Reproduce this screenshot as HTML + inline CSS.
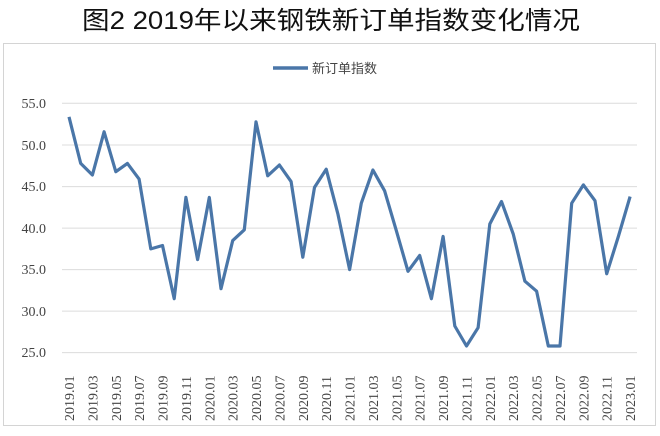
<!DOCTYPE html><html><head><meta charset="utf-8"><style>body{margin:0;background:#fff}</style></head><body>
<svg width="660" height="431" xmlns="http://www.w3.org/2000/svg">
<rect width="660" height="431" fill="#fff"/>
<text x="82" y="29" textLength="498" lengthAdjust="spacingAndGlyphs" font-family="Liberation Sans, Noto Sans CJK SC, sans-serif" font-size="25" fill="#111">图2  2019年以来钢铁新订单指数变化情况</text>
<rect x="3.5" y="43.5" width="652" height="382" fill="none" stroke="#d4d4d4"/>
<g stroke="#dcdcdc" stroke-width="1">
<line x1="62" x2="637" y1="103.3" y2="103.3"/><line x1="62" x2="637" y1="145" y2="145"/><line x1="62" x2="637" y1="186.6" y2="186.6"/><line x1="62" x2="637" y1="228.1" y2="228.1"/><line x1="62" x2="637" y1="269.6" y2="269.6"/><line x1="62" x2="637" y1="311.1" y2="311.1"/><line x1="62" x2="637" y1="352.6" y2="352.6"/>
</g>
<g font-family="Liberation Serif, serif" font-size="14" fill="#444" text-anchor="end">
<text x="46" y="108">55.0</text><text x="46" y="150">50.0</text><text x="46" y="191">45.0</text><text x="46" y="233">40.0</text><text x="46" y="274">35.0</text><text x="46" y="316">30.0</text><text x="46" y="357">25.0</text>
</g>
<line x1="273" x2="308" y1="68" y2="68" stroke="#4a76a8" stroke-width="3.5"/>
<text x="312" y="73" font-family="Liberation Sans, Noto Sans CJK SC, sans-serif" font-size="13" fill="#444">新订单指数</text>
<g id="xl" font-family="Liberation Serif, serif" font-size="14" fill="#444"></g>
<polyline id="ln" fill="none" stroke="#4a76a8" stroke-width="3.2" stroke-linejoin="round"/>
</svg>
<script>
var v=[53.4,47.8,46.4,51.6,46.8,47.8,45.9,37.5,37.9,31.5,43.7,36.2,43.7,32.7,38.5,39.8,52.8,46.3,47.6,45.6,36.5,44.9,47.1,41.7,35.0,43.0,47.0,44.5,39.7,34.8,36.7,31.5,39.0,28.2,25.8,28.0,40.5,43.2,39.3,33.6,32.4,25.8,25.8,43.0,45.2,43.3,34.5,39.0,43.8];
var p=[],g=document.getElementById('xl'),s='';
for(var i=0;i<v.length;i++){var x=69+i*11.69;p.push(x.toFixed(1)+','+(352.6-(v[i]-25)*8.3).toFixed(1));
if(i%2==0){var y=2019+Math.floor(i/12),m=i%12+1;var t=y+'.'+(m<10?'0':'')+m;
s+='<text transform="translate('+(x+5).toFixed(1)+',421) rotate(-90)">'+t+'</text>';}}
g.innerHTML=s;document.getElementById('ln').setAttribute('points',p.join(' '));
</script>
</body></html>
